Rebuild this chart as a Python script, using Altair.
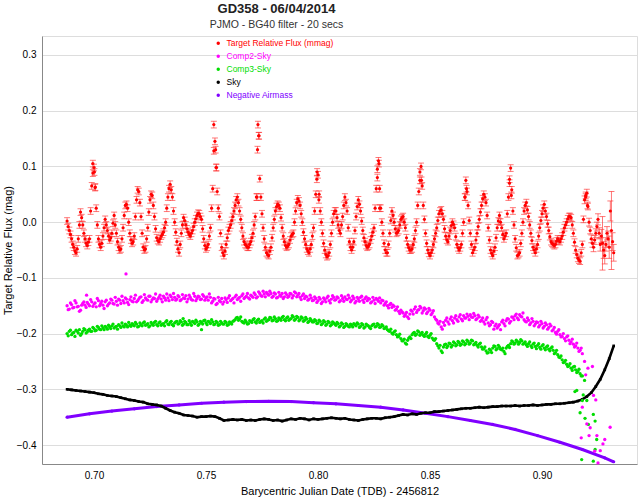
import altair as alt
import numpy as np
import pandas as pd

# ---------------- data ----------------
T0 = 0.688           # first exposure (BJD - 2456812)
DT = 0.001           # sampling step of the tabulated series
T0B = 0.6885         # second, interleaved set of exposures

series_names = ["Target Relative Flux (mmag)", "Comp2-Sky", "Comp3-Sky", "Sky", "Negative Airmass"]
series_colors = ["#ff0000", "#ff00ff", "#00dd00", "#000000", "#8000ff"]

red_v = [
    0.002, -0.015, -0.030, -0.045, -0.055, -0.030, 0.018, -0.005, -0.030, -0.042,
    -0.030, 0.065, 0.098, 0.025, -0.030, -0.045, -0.025, 0.005, -0.015, -0.032,
    -0.020, 0.012, -0.020, -0.045, -0.048, -0.010, 0.030, 0.025, -0.020, -0.038,
    -0.025, 0.040, 0.055, 0.010, -0.045, -0.048, -0.010, 0.040, 0.048, 0.010,
    -0.028, -0.035, -0.025, -0.018, 0.000, 0.045, 0.068, 0.045, 0.000, -0.035,
    -0.055, -0.020, 0.008, -0.005, -0.018, -0.025, -0.015, 0.000, 0.012, 0.015,
    0.005, -0.030, -0.048, -0.040, -0.010, 0.060, 0.145, 0.055, 0.010, -0.045,
    -0.060, -0.040, -0.015, -0.005, 0.010, 0.030, 0.045, 0.020, -0.010, -0.035,
    -0.042, -0.045, -0.035, -0.020, 0.010, 0.130, 0.078, 0.015, -0.030, -0.055,
    -0.060, -0.045, -0.010, 0.020, 0.032, 0.025, -0.010, -0.035, -0.045, -0.040,
    -0.025, -0.020, 0.020, 0.042, 0.030, 0.000, -0.030, -0.048, -0.055, -0.040,
    -0.010, 0.050, 0.085, 0.020, -0.020, -0.050, -0.062, -0.055, -0.020, 0.015,
    0.020, -0.005, -0.020, 0.010, 0.045, 0.020, -0.035, -0.050, -0.035, 0.010,
    0.040, 0.020, -0.015, -0.035, -0.045, -0.040, -0.025, -0.010, 0.060, 0.110,
    0.025, -0.020, -0.050, -0.055, -0.020, 0.020, 0.000, -0.020, -0.015, 0.005,
    0.010, -0.010, -0.040, -0.050, -0.048, -0.030, 0.000, 0.055, 0.100, 0.030,
    -0.020, -0.050, -0.060, -0.050, -0.030, -0.010, 0.015, 0.022, 0.005, -0.025,
    -0.035, -0.015, 0.000, -0.010, -0.040, -0.050, -0.040, 0.000, 0.075, 0.030,
    -0.020, -0.055, -0.045, -0.020, 0.005, 0.030, 0.050, 0.035, -0.010, -0.050,
    -0.060, -0.045, -0.010, 0.012, -0.010, -0.030, -0.020, 0.045, 0.097, 0.020,
    -0.030, -0.060, -0.055, -0.020, 0.020, 0.035, 0.010, -0.020, -0.045, -0.055,
    -0.040, -0.010, 0.015, 0.032, 0.010, -0.015, -0.035, -0.040, -0.040, -0.030,
    -0.035, -0.025, -0.010, 0.000, 0.010, 0.008, -0.020, -0.050, -0.065, -0.070,
    -0.040, 0.040, 0.052, 0.000, -0.030, -0.045, -0.020, 0.005, -0.040, -0.038,
    -0.060, -0.020, -0.045, -0.015, -0.055,
]
red_v2 = [
    -0.008, -0.022, -0.040, -0.052, -0.048, -0.005, 0.008, -0.020, -0.038, -0.036,
    0.020, 0.088, 0.062, -0.005, -0.040, -0.038, -0.010, -0.005, -0.025, -0.028,
    -0.002, -0.005, -0.035, -0.050, -0.030, 0.012, 0.032, 0.000, -0.032, -0.035,
    0.010, 0.058, 0.035, -0.020, -0.050, -0.030, 0.018, 0.050, 0.030, -0.012,
    -0.033, -0.030, -0.022, -0.010, 0.025, 0.060, 0.058, 0.020, -0.018, -0.048,
    -0.040, -0.005, 0.003, -0.012, -0.022, -0.020, -0.008, 0.006, 0.016, 0.010,
    -0.012, -0.042, -0.045, -0.025, 0.025, 0.128, 0.098, 0.025, -0.020, -0.055,
    -0.052, -0.028, -0.010, 0.003, 0.020, 0.040, 0.035, 0.005, -0.025, -0.040,
    -0.045, -0.040, -0.028, -0.005, 0.045, 0.155, 0.045, -0.010, -0.045, -0.058,
    -0.052, -0.028, 0.005, 0.028, 0.030, 0.008, -0.025, -0.042, -0.043, -0.032,
    -0.022, 0.000, 0.035, 0.038, 0.015, -0.018, -0.040, -0.052, -0.048, -0.025,
    0.020, 0.077, 0.050, 0.000, -0.038, -0.058, -0.060, -0.040, 0.000, 0.020,
    0.008, -0.015, -0.005, 0.030, 0.035, -0.010, -0.045, -0.045, -0.015, 0.028,
    0.032, 0.002, -0.028, -0.042, -0.043, -0.032, -0.018, 0.025, 0.095, 0.060,
    0.000, -0.038, -0.055, -0.040, 0.003, 0.012, -0.012, -0.018, -0.005, 0.008,
    0.000, -0.028, -0.046, -0.050, -0.040, -0.015, 0.030, 0.075, 0.065, 0.005,
    -0.038, -0.056, -0.055, -0.040, -0.020, 0.003, 0.020, 0.015, -0.012, -0.032,
    -0.025, -0.006, -0.004, -0.026, -0.046, -0.046, -0.020, 0.045, 0.055, 0.003,
    -0.040, -0.050, -0.032, -0.008, 0.018, 0.042, 0.045, 0.012, -0.032, -0.056,
    -0.052, -0.028, 0.002, 0.000, -0.022, -0.025, 0.015, 0.070, 0.058, -0.005,
    -0.046, -0.058, -0.038, 0.000, 0.030, 0.022, -0.005, -0.033, -0.050, -0.048,
    -0.025, 0.003, 0.025, 0.020, -0.003, -0.026, -0.038, -0.042, -0.034, -0.033,
    -0.030, -0.018, -0.005, 0.006, 0.010, -0.005, -0.036, -0.058, -0.068, -0.055,
    0.005, 0.048, 0.028, -0.015, -0.038, -0.032, -0.008, -0.020, -0.025, -0.050,
    -0.040, -0.030, 0.020, -0.035,
]
red_err_base = 0.006
red_err_tail = [0.007, 0.007, 0.007, 0.007, 0.008, 0.008, 0.010, 0.012, 0.048,
                0.015, 0.012, 0.020, 0.070, 0.015]
red_err2_tail = [0.007, 0.008, 0.008, 0.010, 0.012, 0.015, 0.012, 0.014, 0.018, 0.016]
red_extra_t = [0.6995, 0.7002, 0.7006, 0.7535, 0.7543, 0.7547, 0.7728, 0.7732, 0.7737,
               0.7996, 0.8004, 0.8265, 0.8272, 0.8275, 0.8455, 0.8462, 0.8657, 0.8663,
               0.8855, 0.8863, 0.9195, 0.9203]
red_extra_v = [0.105, 0.090, 0.063, 0.175, 0.130, 0.098, 0.045, 0.175, 0.155,
               0.090, 0.040, 0.080, 0.105, 0.025, 0.090, 0.075, 0.045, 0.060,
               0.077, 0.048, 0.045, 0.030]

mag_v = [
    -0.150, -0.156, -0.148, -0.153, -0.145, -0.151, -0.158, -0.146, -0.149, -0.144,
    -0.150, -0.143, -0.147, -0.152, -0.141, -0.146, -0.149, -0.143, -0.150, -0.145,
    -0.140, -0.147, -0.142, -0.138, -0.146, -0.141, -0.136, -0.144, -0.139, -0.142,
    -0.137, -0.143, -0.138, -0.134, -0.141, -0.136, -0.140, -0.133, -0.139, -0.137,
    -0.142, -0.135, -0.138, -0.133, -0.140, -0.136, -0.131, -0.139, -0.135, -0.138,
    -0.134, -0.139, -0.136, -0.132, -0.138, -0.135, -0.140, -0.133, -0.137, -0.134,
    -0.138, -0.133, -0.136, -0.140, -0.135, -0.142, -0.138, -0.146, -0.141, -0.137,
    -0.143, -0.139, -0.136, -0.141, -0.137, -0.134, -0.139, -0.135, -0.132, -0.137,
    -0.133, -0.136, -0.131, -0.135, -0.130, -0.134, -0.128, -0.133, -0.129, -0.126,
    -0.131, -0.128, -0.133, -0.129, -0.135, -0.131, -0.128, -0.134, -0.130, -0.133,
    -0.129, -0.132, -0.127, -0.131, -0.135, -0.132, -0.137, -0.134, -0.138, -0.136,
    -0.140, -0.137, -0.141, -0.138, -0.143, -0.139, -0.136, -0.141, -0.138, -0.135,
    -0.139, -0.136, -0.141, -0.137, -0.134, -0.139, -0.136, -0.140, -0.137, -0.142,
    -0.138, -0.135, -0.140, -0.137, -0.141, -0.138, -0.143, -0.140, -0.137, -0.142,
    -0.145, -0.141, -0.146, -0.150, -0.148, -0.153, -0.151, -0.156, -0.160, -0.158,
    -0.163, -0.166, -0.170, -0.165, -0.160, -0.156, -0.162, -0.157, -0.154, -0.159,
    -0.156, -0.161, -0.158, -0.163, -0.170, -0.176, -0.183, -0.188, -0.180, -0.176,
    -0.179, -0.174, -0.177, -0.172, -0.175, -0.170, -0.174, -0.168, -0.172, -0.169,
    -0.166, -0.171, -0.168, -0.173, -0.170, -0.176, -0.179, -0.175, -0.181, -0.184,
    -0.180, -0.186, -0.190, -0.184, -0.179, -0.182, -0.177, -0.174, -0.178, -0.171,
    -0.168, -0.172, -0.166, -0.170, -0.175, -0.179, -0.176, -0.181, -0.178, -0.183,
    -0.180, -0.185, -0.182, -0.187, -0.184, -0.189, -0.186, -0.193, -0.198, -0.196,
    -0.202, -0.205, -0.209, -0.206, -0.212, -0.215, -0.219, -0.222, -0.226, -0.230,
    -0.236,
]
mag_v2 = [
    -0.157, -0.145, -0.154, -0.141, -0.152, -0.160, -0.149, -0.143, -0.153, -0.147,
    -0.139, -0.151, -0.145, -0.137, -0.150, -0.142, -0.155, -0.140, -0.147, -0.138,
    -0.146, -0.135, -0.149, -0.140, -0.133, -0.145, -0.138, -0.148, -0.134, -0.143,
    -0.131, -0.141, -0.135, -0.144, -0.130, -0.139, -0.133, -0.143, -0.136, -0.129,
    -0.138, -0.131, -0.143, -0.136, -0.129, -0.141, -0.134, -0.128, -0.140, -0.132,
    -0.141, -0.130, -0.137, -0.143, -0.131, -0.139, -0.128, -0.141, -0.133, -0.139,
    -0.130, -0.140, -0.134, -0.129, -0.145, -0.137, -0.148, -0.135, -0.143, -0.147,
    -0.136, -0.144, -0.132, -0.139, -0.145, -0.131, -0.137, -0.142, -0.129, -0.135,
    -0.128, -0.138, -0.133, -0.127, -0.136, -0.125, -0.132, -0.124, -0.134, -0.129,
    -0.124, -0.135, -0.127, -0.136, -0.126, -0.133, -0.137, -0.127, -0.135, -0.128,
    -0.136, -0.125, -0.134, -0.128, -0.139, -0.129, -0.133, -0.140, -0.131, -0.141,
    -0.134, -0.144, -0.135, -0.146, -0.136, -0.143, -0.133, -0.145, -0.132, -0.140,
    -0.134, -0.143, -0.132, -0.142, -0.138, -0.131, -0.143, -0.133, -0.145, -0.135,
    -0.142, -0.133, -0.144, -0.134, -0.137, -0.145, -0.135, -0.146, -0.139, -0.136,
    -0.140, -0.149, -0.143, -0.154, -0.146, -0.149, -0.158, -0.152, -0.164, -0.161,
    -0.169, -0.162, -0.173, -0.158, -0.165, -0.152, -0.158, -0.151, -0.163, -0.154,
    -0.164, -0.155, -0.166, -0.159, -0.174, -0.181, -0.178, -0.192, -0.185, -0.172,
    -0.183, -0.170, -0.181, -0.168, -0.178, -0.166, -0.177, -0.172, -0.165, -0.175,
    -0.170, -0.164, -0.175, -0.167, -0.178, -0.172, -0.183, -0.171, -0.186, -0.178,
    -0.192, -0.183, -0.187, -0.193, -0.176, -0.186, -0.173, -0.181, -0.170, -0.175,
    -0.165, -0.175, -0.169, -0.163, -0.178, -0.172, -0.184, -0.173, -0.186, -0.179,
    -0.188, -0.178, -0.190, -0.181, -0.192, -0.183, -0.195, -0.189, -0.201, -0.193,
    -0.206, -0.200, -0.213, -0.204, -0.218, -0.210, -0.224, -0.217, -0.232, -0.226,
]
mag_extra_t = [0.6967, 0.7143, 0.9175, 0.918, 0.919, 0.9195, 0.920, 0.9205, 0.921, 0.9215,
               0.9225, 0.923, 0.9235, 0.924, 0.9245, 0.925, 0.926, 0.9272, 0.928, 0.9304]
mag_extra_v = [-0.131, -0.093, -0.387, -0.332, -0.250, -0.274, -0.362, -0.262, -0.383, -0.369,
               -0.259, -0.311, -0.411, -0.319, -0.383, -0.432, -0.410, -0.398, -0.390, -0.368]

grn_v = [
    -0.200, -0.196, -0.202, -0.198, -0.194, -0.199, -0.203, -0.196, -0.193, -0.197,
    -0.192, -0.196, -0.191, -0.194, -0.189, -0.193, -0.190, -0.187, -0.192, -0.188,
    -0.186, -0.190, -0.187, -0.184, -0.189, -0.186, -0.183, -0.188, -0.185, -0.182,
    -0.186, -0.183, -0.187, -0.184, -0.181, -0.185, -0.182, -0.186, -0.183, -0.180,
    -0.184, -0.181, -0.185, -0.182, -0.179, -0.183, -0.180, -0.184, -0.181, -0.178,
    -0.182, -0.179, -0.183, -0.180, -0.184, -0.181, -0.178, -0.182, -0.179, -0.183,
    -0.180, -0.177, -0.181, -0.178, -0.182, -0.179, -0.183, -0.180, -0.184, -0.181,
    -0.183, -0.180, -0.184, -0.181, -0.178, -0.175, -0.171, -0.174, -0.178, -0.181,
    -0.179, -0.182, -0.178, -0.175, -0.179, -0.176, -0.180, -0.177, -0.174, -0.178,
    -0.175, -0.172, -0.176, -0.173, -0.177, -0.174, -0.171, -0.175, -0.172, -0.176,
    -0.173, -0.170, -0.174, -0.171, -0.175, -0.172, -0.176, -0.174, -0.178, -0.176,
    -0.179, -0.177, -0.181, -0.178, -0.182, -0.179, -0.183, -0.180, -0.184, -0.181,
    -0.185, -0.182, -0.186, -0.183, -0.187, -0.184, -0.188, -0.185, -0.182, -0.186,
    -0.183, -0.187, -0.184, -0.188, -0.185, -0.189, -0.186, -0.183, -0.187, -0.184,
    -0.188, -0.186, -0.190, -0.193, -0.196, -0.199, -0.197, -0.202, -0.205, -0.209,
    -0.213, -0.217, -0.212, -0.206, -0.202, -0.198, -0.201, -0.197, -0.200, -0.203,
    -0.201, -0.205, -0.203, -0.208, -0.212, -0.218, -0.226, -0.231, -0.224, -0.219,
    -0.222, -0.218, -0.221, -0.217, -0.220, -0.216, -0.219, -0.215, -0.218, -0.214,
    -0.217, -0.213, -0.218, -0.221, -0.219, -0.224, -0.227, -0.231, -0.234, -0.230,
    -0.226, -0.223, -0.227, -0.224, -0.229, -0.232, -0.226, -0.221, -0.218, -0.215,
    -0.217, -0.214, -0.216, -0.213, -0.217, -0.220, -0.218, -0.222, -0.219, -0.223,
    -0.221, -0.225, -0.222, -0.226, -0.224, -0.228, -0.226, -0.230, -0.234, -0.238,
    -0.243, -0.247, -0.251, -0.255, -0.258, -0.262, -0.260, -0.265, -0.268, -0.272,
    -0.276,
]
grn_v2 = [
    -0.204, -0.194, -0.199, -0.205, -0.196, -0.193, -0.200, -0.191, -0.199, -0.194,
    -0.196, -0.189, -0.195, -0.187, -0.192, -0.186, -0.193, -0.189, -0.185, -0.191,
    -0.183, -0.188, -0.192, -0.186, -0.181, -0.188, -0.185, -0.180, -0.187, -0.184,
    -0.180, -0.188, -0.181, -0.186, -0.179, -0.184, -0.188, -0.180, -0.185, -0.178,
    -0.186, -0.179, -0.183, -0.186, -0.177, -0.184, -0.178, -0.186, -0.179, -0.183,
    -0.177, -0.185, -0.178, -0.184, -0.177, -0.185, -0.180, -0.176, -0.185, -0.178,
    -0.183, -0.176, -0.184, -0.179, -0.175, -0.184, -0.178, -0.185, -0.178, -0.183,
    -0.178, -0.185, -0.179, -0.183, -0.177, -0.172, -0.176, -0.170, -0.180, -0.176,
    -0.183, -0.177, -0.180, -0.173, -0.181, -0.174, -0.178, -0.181, -0.172, -0.176,
    -0.171, -0.177, -0.170, -0.178, -0.172, -0.176, -0.169, -0.177, -0.170, -0.174,
    -0.168, -0.176, -0.169, -0.177, -0.170, -0.178, -0.171, -0.180, -0.173, -0.179,
    -0.175, -0.182, -0.176, -0.184, -0.177, -0.185, -0.178, -0.186, -0.179, -0.183,
    -0.180, -0.188, -0.181, -0.189, -0.182, -0.187, -0.183, -0.188, -0.184, -0.181,
    -0.189, -0.182, -0.190, -0.183, -0.186, -0.191, -0.184, -0.188, -0.182, -0.189,
    -0.184, -0.191, -0.188, -0.195, -0.192, -0.201, -0.195, -0.206, -0.201, -0.213,
    -0.210, -0.219, -0.208, -0.209, -0.199, -0.203, -0.195, -0.203, -0.198, -0.205,
    -0.198, -0.207, -0.200, -0.211, -0.209, -0.222, -0.221, -0.234, -0.220, -0.225,
    -0.217, -0.224, -0.215, -0.222, -0.214, -0.221, -0.213, -0.220, -0.212, -0.219,
    -0.212, -0.220, -0.216, -0.224, -0.217, -0.228, -0.224, -0.235, -0.228, -0.234,
    -0.222, -0.229, -0.221, -0.228, -0.226, -0.236, -0.223, -0.225, -0.213, -0.219,
    -0.212, -0.219, -0.211, -0.219, -0.215, -0.223, -0.215, -0.225, -0.217, -0.227,
    -0.218, -0.228, -0.220, -0.229, -0.222, -0.231, -0.224, -0.236, -0.230, -0.242,
    -0.240, -0.252, -0.248, -0.259, -0.254, -0.266, -0.259, -0.270, -0.264, -0.276,
]
grn_extra_t = [0.7398, 0.7480, 0.9147, 0.9155, 0.917, 0.9177, 0.918, 0.9184, 0.919, 0.9192,
               0.920, 0.9207, 0.9229, 0.9229, 0.9237, 0.9237, 0.9244]
grn_extra_v = [-0.173, -0.193, -0.304, -0.302, -0.342, -0.426, -0.320, -0.310, -0.284, -0.352,
               -0.320, -0.363, -0.345, -0.429, -0.357, -0.408, -0.390]

SKY_DT = 0.002
sky_v = [
    -0.300, -0.301, -0.302, -0.303, -0.304, -0.305, -0.306, -0.308, -0.309, -0.311,
    -0.312, -0.313, -0.315, -0.317, -0.319, -0.320, -0.322, -0.323, -0.326, -0.327,
    -0.328, -0.330, -0.334, -0.338, -0.341, -0.343, -0.346, -0.347, -0.348, -0.350,
    -0.349, -0.349, -0.348, -0.349, -0.352, -0.356, -0.355, -0.354, -0.355, -0.354,
    -0.356, -0.355, -0.356, -0.354, -0.353, -0.354, -0.356, -0.355, -0.357, -0.355,
    -0.353, -0.354, -0.352, -0.353, -0.355, -0.353, -0.354, -0.353, -0.352, -0.351,
    -0.352, -0.353, -0.352, -0.354, -0.355, -0.356, -0.354, -0.353, -0.352, -0.352,
    -0.353, -0.351, -0.350, -0.349, -0.347, -0.345, -0.346, -0.344, -0.345, -0.343,
    -0.342, -0.342, -0.340, -0.340, -0.339, -0.338, -0.337, -0.336, -0.335, -0.334,
    -0.334, -0.333, -0.332, -0.333, -0.332, -0.331, -0.331, -0.330, -0.330, -0.330,
    -0.329, -0.330, -0.329, -0.329, -0.328, -0.329, -0.328, -0.327, -0.327, -0.326,
    -0.326, -0.325, -0.324, -0.323, -0.321, -0.318, -0.313, -0.306, -0.295, -0.282,
    -0.265, -0.245, -0.222,
]

air_t = [0.688, 0.698, 0.708, 0.718, 0.728, 0.738, 0.748, 0.758, 0.768, 0.778, 0.788,
         0.798, 0.808, 0.818, 0.828, 0.838, 0.848, 0.858, 0.868, 0.878, 0.888, 0.898,
         0.908, 0.918, 0.928, 0.932]
air_v = [-0.350, -0.344, -0.339, -0.335, -0.331, -0.328, -0.325, -0.323, -0.322, -0.3215,
         -0.322, -0.324, -0.326, -0.329, -0.332, -0.337, -0.343, -0.349, -0.356, -0.363,
         -0.372, -0.383, -0.395, -0.408, -0.423, -0.430]

x_ticks = [0.70, 0.75, 0.80, 0.85, 0.90]
y_ticks = [-0.4, -0.3, -0.2, -0.1, 0.0, 0.1, 0.2, 0.3]

# ---------------- tables ----------------
def grid(values, step, start=T0):
    return list(np.round(start + step * np.arange(len(values)), 5))

red_err = [red_err_base] * (len(red_v) - len(red_err_tail)) + red_err_tail
red_err2 = [red_err_base] * (len(red_v2) - len(red_err2_tail)) + red_err2_tail
red_df = pd.DataFrame({
    "t": grid(red_v, DT) + grid(red_v2, DT, T0B) + red_extra_t,
    "v": red_v + red_v2 + red_extra_v,
    "e": red_err + red_err2 + [red_err_base] * len(red_extra_t),
})
red_df["lo"] = red_df["v"] - red_df["e"]
red_df["hi"] = red_df["v"] + red_df["e"]
red_df["series"] = series_names[0]

mag_df = pd.DataFrame({"t": grid(mag_v, DT) + grid(mag_v2, DT, T0B) + mag_extra_t,
                       "v": mag_v + mag_v2 + mag_extra_v})
mag_df["series"] = series_names[1]
grn_df = pd.DataFrame({"t": grid(grn_v, DT) + grid(grn_v2, DT, T0B) + grn_extra_t,
                       "v": grn_v + grn_v2 + grn_extra_v})
grn_df["series"] = series_names[2]
sky_df = pd.DataFrame({"t": grid(sky_v, SKY_DT), "v": sky_v})
sky_df["series"] = series_names[3]
air_df = pd.DataFrame({"t": air_t, "v": air_v})
air_df["series"] = series_names[4]

FONT = "Liberation Sans"
xscale = alt.Scale(domain=[0.6768, 0.9424], nice=False, zero=False)
yscale = alt.Scale(domain=[-0.434, 0.334], nice=False, zero=False)

label_expr = ("datum.label == 'Target Relative Flux (mmag)' ? '#ff0000' : "
              "datum.label == 'Comp2-Sky' ? '#ff00ff' : "
              "datum.label == 'Comp3-Sky' ? '#00dd00' : "
              "datum.label == 'Sky' ? '#000000' : '#8000ff'")

color = alt.Color(
    "series:N",
    scale=alt.Scale(domain=series_names, range=series_colors),
    legend=alt.Legend(
        title=None, orient="none", legendX=172, legendY=3,
        symbolType="circle", symbolSize=12, symbolStrokeWidth=0,
        labelFont=FONT, labelFontSize=8.5, labelColor={"expr": label_expr},
        rowPadding=4, labelOffset=4,
    ),
)

X = alt.X("t:Q", scale=xscale,
          axis=alt.Axis(values=x_ticks, format=".2f", grid=False, ticks=False,
                        title="Barycentric Julian Date (TDB) - 2456812",
                        titleFontWeight="normal", labelPadding=6, titlePadding=5))
Y = alt.Y("v:Q", scale=yscale,
          axis=alt.Axis(values=y_ticks, format=".1f", grid=True, ticks=False,
                        title="Target Relative Flux (mag)",
                        titleFontWeight="normal", labelPadding=6, titlePadding=3))

air_line = alt.Chart(air_df).mark_line(color="#8000ff", strokeWidth=3).encode(x=X, y=Y)
air_pts = alt.Chart(air_df).mark_circle(size=10, opacity=1).encode(x=X, y=Y, color=color)
sky_line = alt.Chart(sky_df).mark_line(color="#000000", strokeWidth=2.6).encode(x=X, y=Y)
sky_pts = alt.Chart(sky_df).mark_square(size=7, opacity=1).encode(x=X, y=Y, color=color)
grn_pts = alt.Chart(grn_df).mark_circle(size=11, opacity=1).encode(x=X, y=Y, color=color)
mag_pts = alt.Chart(mag_df).mark_circle(size=11, opacity=1).encode(x=X, y=Y, color=color)

red_rule = alt.Chart(red_df).mark_rule(color="#ff3030", strokeWidth=1, opacity=0.65).encode(
    x=X, y=alt.Y("lo:Q", scale=yscale), y2="hi:Q")
red_cap_lo = alt.Chart(red_df).mark_tick(color="#ff3030", orient="horizontal", size=6,
                                         thickness=1, opacity=0.65).encode(
    x=X, y=alt.Y("lo:Q", scale=yscale))
red_cap_hi = alt.Chart(red_df).mark_tick(color="#ff3030", orient="horizontal", size=6,
                                         thickness=1, opacity=0.65).encode(
    x=X, y=alt.Y("hi:Q", scale=yscale))
red_pts = alt.Chart(red_df).mark_circle(size=10, opacity=1).encode(x=X, y=Y, color=color)

chart = alt.layer(
    air_line, air_pts, sky_line, sky_pts, grn_pts, mag_pts,
    red_rule, red_cap_lo, red_cap_hi, red_pts,
).properties(
    width=595, height=428,
    autosize=alt.AutoSizeParams(type="none"),
    padding={"left": 42, "top": 36, "right": 3, "bottom": 37},
    title=alt.TitleParams(
        text="GD358 - 06/04/2014", subtitle="PJMO - BG40 filter - 20 secs",
        font=FONT, fontSize=13, fontWeight="bold", color="#222222",
        subtitleFont=FONT, subtitleFontSize=10.5, subtitleColor="#333333",
        anchor="middle", frame="group", dx=-63, offset=6, subtitlePadding=4,
    ),
).configure_view(
    stroke="#777777", strokeWidth=1,
).configure_axis(
    labelFont=FONT, titleFont=FONT, labelFontSize=10, titleFontSize=10,
    labelColor="#333333", titleColor="#333333", titleFontWeight="normal",
    domainColor="#555555", domainWidth=1, gridColor="#d4d4d4", gridWidth=1.5,
).configure(background="white")

chart.save("out.html", embed_options={"renderer": "svg", "actions": False})
